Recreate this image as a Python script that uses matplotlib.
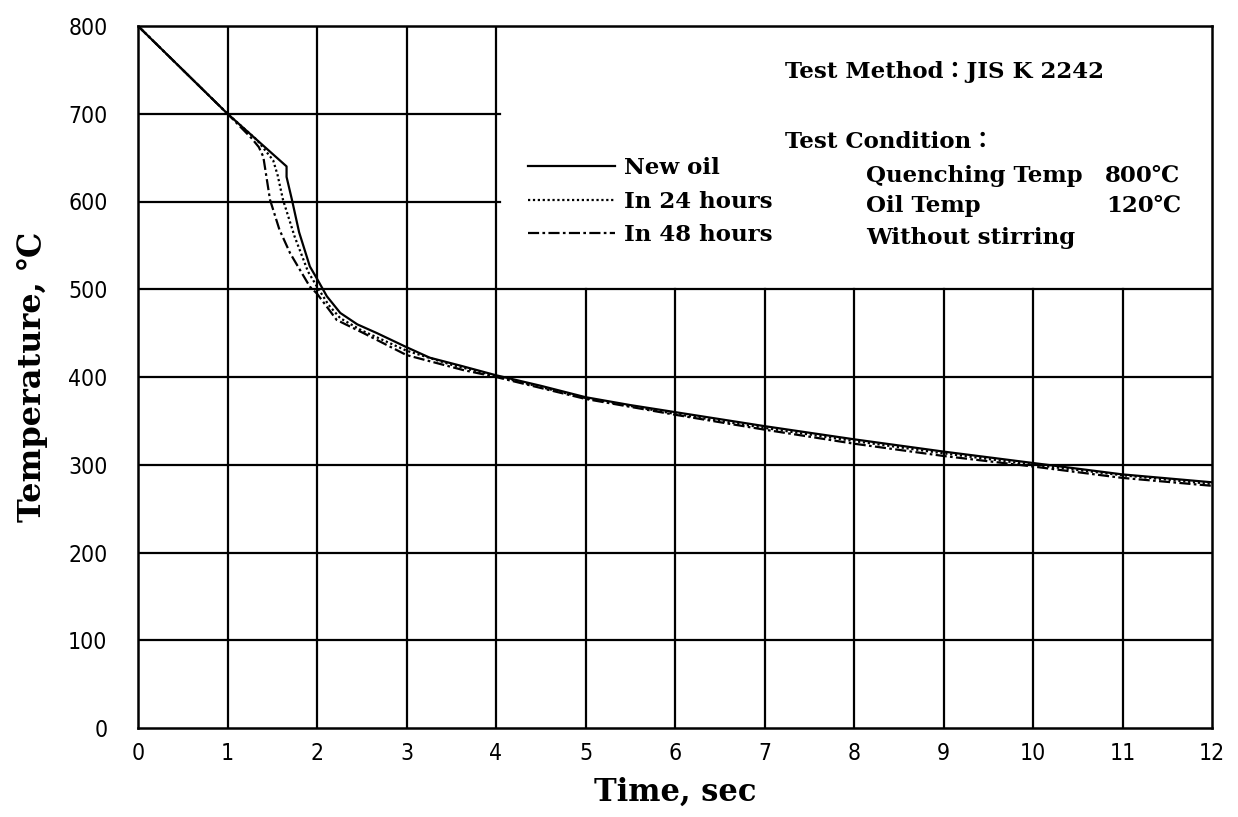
import matplotlib
matplotlib.use("Agg")
import matplotlib.pyplot as plt

# ---- data ----
new_oil_t = [0, 1.0, 1.66, 1.66, 1.72, 1.80, 1.92, 2.0, 2.11, 2.26, 2.45, 2.67, 3.0, 3.26, 3.6, 4.0, 4.5, 5.0, 5.5, 6, 7, 8, 9, 10, 11, 12]
new_oil_T = [800, 700, 640, 628, 602, 565, 526, 512, 492, 473, 460, 450, 434, 422, 413, 402, 390, 377, 368, 360, 344, 329, 315, 302, 289, 280]

h24_t = [0, 1.0, 1.33, 1.51, 1.56, 1.62, 1.75, 1.90, 2.0, 2.13, 2.26, 2.5, 3.0, 3.5, 4.0, 5.0, 6, 7, 8, 9, 10, 11, 12]
h24_T = [800, 700, 670, 647, 630, 602, 560, 520, 503, 482, 467, 453, 430, 414, 401, 376, 358, 342, 327, 313, 300, 288, 278]

h48_t = [0, 1.0, 1.27, 1.35, 1.40, 1.475, 1.58, 1.70, 1.92, 2.0, 2.22, 2.52, 3.0, 3.63, 4.0, 5.0, 6, 7, 8, 9, 10, 11, 12]
h48_T = [800, 700, 672, 662, 651, 602, 568, 541, 503, 495, 465, 450, 425, 408, 400, 375, 357, 340, 324, 310, 298, 285, 276]

labels = ["New oil", "In 24 hours", "In 48 hours"]
x_ticks = list(range(0, 13))
y_ticks = list(range(0, 801, 100))

# ---- fonts ----
tick_font = "DejaVu Sans"
serif = ["DejaVu Serif", "Noto Sans CJK JP", "DejaVu Sans"]

fig = plt.figure(figsize=(12.38, 8.17), dpi=100)
ax = fig.add_axes([138/1238, 1-728/817, 1074/1238, 702/817])
ax.set_xlim(0, 12)
ax.set_ylim(0, 800)

lw_grid = 1.6
for y in y_ticks[1:-1]:
    if y <= 500:
        ax.plot([0, 12], [y, y], color="black", lw=lw_grid, zorder=1)
    else:
        ax.plot([0, 4.05], [y, y], color="black", lw=lw_grid, zorder=1)
for x in x_ticks[1:-1]:
    if x <= 4:
        ax.plot([x, x], [0, 800], color="black", lw=lw_grid, zorder=1)
    else:
        ax.plot([x, x], [0, 500], color="black", lw=lw_grid, zorder=1)

for s in ax.spines.values():
    s.set_linewidth(1.8)

l1, = ax.plot(new_oil_t, new_oil_T, color="black", lw=1.6, ls="-", zorder=3)
l2, = ax.plot(h24_t, h24_T, color="black", lw=1.6, ls=(0, (1, 1.2)), zorder=3)
l3, = ax.plot(h48_t, h48_T, color="black", lw=1.6, ls=(0, (5, 1.5, 1.2, 1.5)), zorder=3)

leg = ax.legend([l1, l2, l3], labels, loc="upper left", bbox_to_anchor=(0.363, 0.813),
                frameon=False, handlelength=3.8, handletextpad=0.4, labelspacing=0.5,
                borderpad=0, borderaxespad=0,
                prop=dict(family=serif, size=16.5, weight="bold"))

ax.set_xticks(x_ticks)
ax.set_yticks(y_ticks)
ax.set_xticklabels([str(v) for v in x_ticks], family=tick_font, fontstretch="condensed", fontsize=16.5)
ax.set_yticklabels([str(v) for v in y_ticks], family=tick_font, fontstretch="condensed", fontsize=16.5)
ax.tick_params(axis="both", length=0)
ax.tick_params(axis="x", pad=10)
ax.tick_params(axis="y", pad=22)

ax.set_xlabel("Time, sec", family=serif, fontsize=22, weight="bold")
ax.set_ylabel("Temperature, ℃", family=serif, fontsize=23, weight="bold")
ax.xaxis.set_label_coords(0.5, -0.07)
ax.yaxis.set_label_coords(-0.084, 0.5)

tkw = dict(family=serif, fontsize=16.5, weight="bold", va="center")
ax.text(7.23, 748, "Test Method：JIS K 2242", ha="left", **tkw)
ax.text(7.23, 668, "Test Condition：", ha="left", **tkw)
ax.text(8.13, 629, "Quenching Temp", ha="left", **tkw)
ax.text(11.64, 629, "800℃", ha="right", **tkw)
ax.text(8.13, 595, "Oil Temp", ha="left", **tkw)
ax.text(11.66, 595, "120℃", ha="right", **tkw)
ax.text(8.13, 558, "Without stirring", ha="left", **tkw)

fig.savefig("out.png", dpi=100)
